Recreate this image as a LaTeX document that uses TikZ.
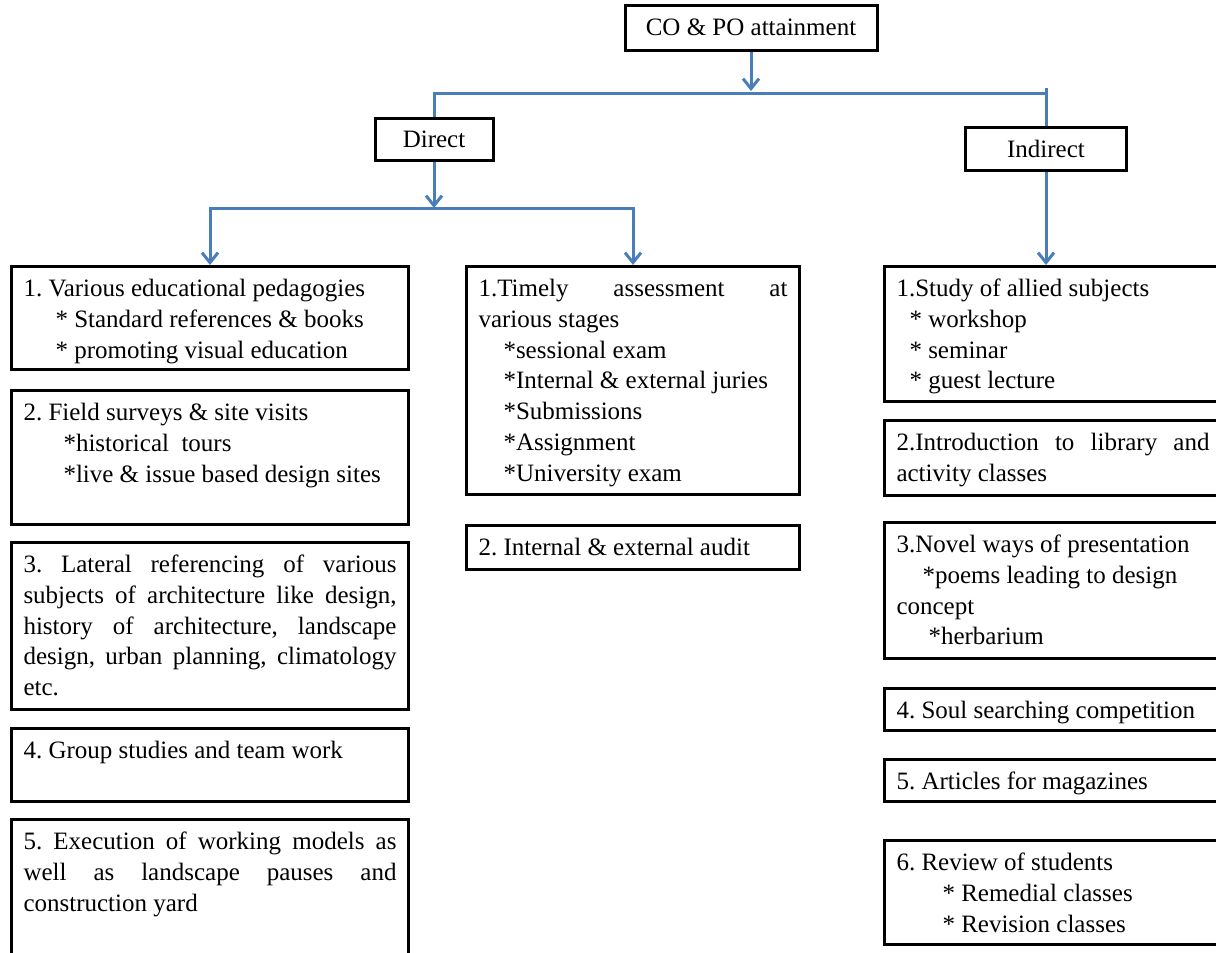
\documentclass[tikz,border=0pt]{standalone}
\usepackage{fontspec}
\setmainfont{Liberation Serif}
\usetikzlibrary{arrows.meta}
\definecolor{linkblue}{HTML}{4A7EBB}
\hbadness=10000
\frenchspacing
\newcommand\boxtxt[3]{\parbox[t][#2][t]{#1}{\frenchspacing\rule{0pt}{30pt}#3}}
\begin{document}
\begin{tikzpicture}[x=1pt,y=-1pt,
  box/.style={draw=black, line width=3pt, inner sep=0pt, font=\fontsize{25}{30.8}\selectfont\frenchspacing},
  col/.style={box, anchor=north west, inner xsep=12pt, inner ysep=0pt},
  link/.style={draw=linkblue, line width=3pt},
  arr/.style={link, -{Straight Barb[length=10pt,width=16pt]}}]
\useasboundingbox (0,0) rectangle (1216,953);
\fill[white] (0,0) rectangle (1216,953);
\clip (0,0) rectangle (1216,953);

% top level
\node[box, minimum width=252pt, minimum height=45pt] (top) at (751,27.5) {CO \& PO attainment};
\node[box, minimum width=118pt, minimum height=42pt] (direct) at (434,139) {Direct};
\node[box, minimum width=161pt, minimum height=43pt] (indirect) at (1046,148.5) {Indirect};

% left column
\node[col] (l1) at (10,265) {\boxtxt{373pt}{103pt}{1. Various educational pedagogies\\\hspace*{32pt}* Standard references \& books\\\hspace*{32pt}* promoting visual education}};
\node[col] (l2) at (10,389) {\boxtxt{373pt}{134pt}{2. Field surveys \& site visits\\\hspace*{40pt}*historical\ \ tours\\\hspace*{40pt}*live \& issue based design sites}};
\node[col] (l3) at (10,541) {\boxtxt{373pt}{167pt}{3. Lateral referencing of various\linebreak subjects of architecture like design,\linebreak history of architecture, landscape\linebreak design, urban planning, climatology\linebreak etc.}};
\node[col] (l4) at (10,727) {\boxtxt{373pt}{73pt}{4. Group studies and team work}};
\node[col] (l5) at (10,818) {\boxtxt{373pt}{147pt}{5. Execution of working models as\linebreak well as landscape pauses and\linebreak construction yard}};

% middle column
\node[col] (m1) at (465,265) {\boxtxt{309pt}{228pt}{1.Timely assessment at\linebreak various stages\\\hspace*{25pt}*sessional exam\\\hspace*{25pt}*Internal \& external juries\\\hspace*{25pt}*Submissions\\\hspace*{25pt}*Assignment\\\hspace*{25pt}*University exam}};
\node[col] (m2) at (465,524) {\boxtxt{309pt}{44pt}{2. Internal \& external audit}};

% right column
\node[col] (r1) at (883,265) {\boxtxt{313pt}{135pt}{1.Study of allied subjects\\\hspace*{13pt}* workshop\\\hspace*{13pt}* seminar\\\hspace*{13pt}* guest lecture}};
\node[col] (r2) at (883,419) {\boxtxt{313pt}{75pt}{2.Introduction to library and\linebreak activity classes}};
\node[col] (r3) at (883,521) {\boxtxt{313pt}{136pt}{3.Novel ways of presentation\\\hspace*{26pt}*poems leading to design\\concept\\\hspace*{32pt}*herbarium}};
\node[col] (r4) at (883,687) {\boxtxt{313pt}{42pt}{4. Soul searching competition}};
\node[col] (r5) at (883,758) {\boxtxt{313pt}{42pt}{5. Articles for magazines}};
\node[col] (r6) at (883,839) {\boxtxt{313pt}{104pt}{6. Review of students\\\hspace*{46pt}* Remedial classes\\\hspace*{46pt}* Revision classes}};

% connectors
\coordinate (j0) at (751,91);
\coordinate (jL) at (434,93);
\coordinate (jR) at (1046,93);
\coordinate (tick) at (1046,88);
\coordinate (j1) at (434,208);

\draw[arr] (top.south) -- (j0);
\draw[link] (direct.north) -- (jL) -- (jR) -- (indirect.north);
\draw[link] (jR) -- (tick);
\draw[arr] (direct.south) -- (j1);
\draw[arr] (j1) -| (l1.north);
\draw[arr] (j1) -| (m1.north);
\draw[arr] (indirect.south) -- (indirect.south |- r1.north);
\end{tikzpicture}
\end{document}
